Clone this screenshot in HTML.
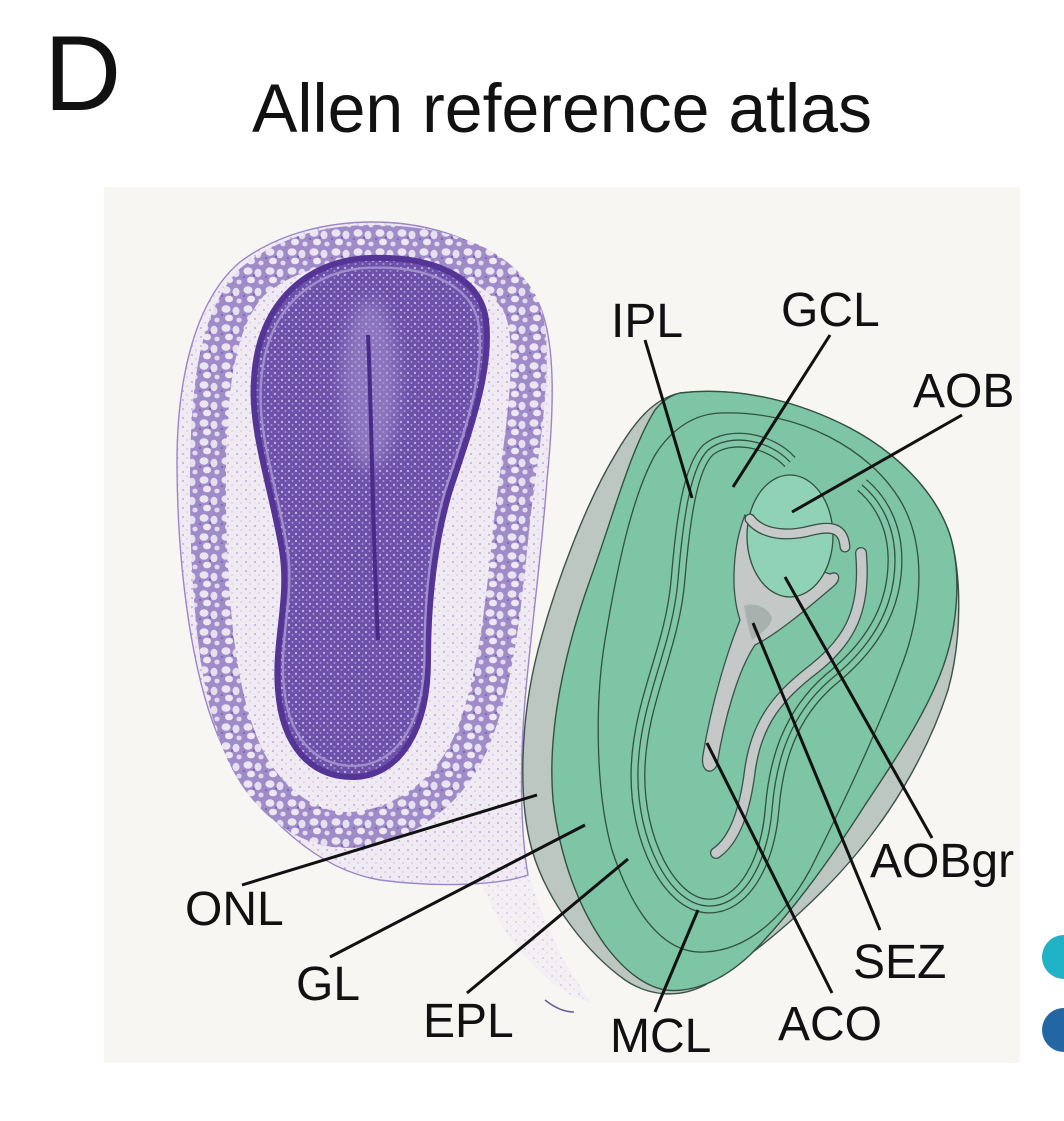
<!DOCTYPE html>
<html><head><meta charset="utf-8">
<style>
html,body{margin:0;padding:0;background:#fff;}
svg{display:block;}
text{font-family:"Liberation Sans", Arial, sans-serif; fill:#111;}
</style></head><body>
<svg width="1064" height="1121" viewBox="0 0 1064 1121" xmlns="http://www.w3.org/2000/svg">
<defs>
  <pattern id="glom" width="22" height="19" patternUnits="userSpaceOnUse">
    <rect width="22" height="19" fill="#a08bc9"/>
    <ellipse cx="6" cy="5" rx="4.5" ry="3.8" fill="#ebe5f1"/>
    <ellipse cx="16" cy="7" rx="3.5" ry="4.2" fill="#e6dff0"/>
    <ellipse cx="9" cy="14" rx="4" ry="3.3" fill="#eee8f3"/>
    <ellipse cx="19" cy="16" rx="2.6" ry="2.4" fill="#e2daee"/>
    <circle cx="12" cy="9.5" r="1" fill="#6e52a8"/>
    <circle cx="2" cy="11" r="0.9" fill="#6e52a8"/>
  </pattern>
  <pattern id="core" width="7" height="7" patternUnits="userSpaceOnUse">
    <rect width="7" height="7" fill="#6d50a9"/>
    <circle cx="2" cy="2" r="1.2" fill="#bcaddf"/>
    <circle cx="5.5" cy="5" r="1" fill="#a994d4"/>
  </pattern>
  <pattern id="light" width="9" height="9" patternUnits="userSpaceOnUse">
    <rect width="9" height="9" fill="#f0eaf3"/>
    <circle cx="3" cy="4" r="0.9" fill="#ae9cd2"/>
    <circle cx="7" cy="8" r="0.7" fill="#c3b6df"/>
  </pattern>
  <filter id="blur8" x="-50%" y="-50%" width="200%" height="200%"><feGaussianBlur stdDeviation="8"/></filter>
</defs>

<!-- panel -->
<rect x="104" y="187" width="916" height="876" fill="#f8f6f3"/>

<!-- side circles -->
<circle cx="1064" cy="957" r="22" fill="#20b2c7"/>
<circle cx="1064" cy="1030" r="22" fill="#2267a4"/>

<!-- title -->
<text x="44" y="110" font-size="107">D</text>
<text x="252" y="132" font-size="69" textLength="620" lengthAdjust="spacingAndGlyphs">Allen reference atlas</text>

<!-- Nissl section -->
<g>
  <path d="M 480 880 C 505 870, 520 860, 528 870 C 545 930, 570 975, 592 1003 C 570 1000, 540 975, 515 945 C 500 925, 488 900, 480 880 Z" fill="url(#light)" opacity="0.6"/>
  <path d="M 545 1000 C 555 1008, 565 1012, 574 1012" fill="none" stroke="#6d5a9a" stroke-width="1.5"/>
  <path d="M 373 222 C 440 222, 505 248, 537 300 C 558 340, 553 420, 547 480 C 541 560, 530 640, 525 700 C 520 760, 520 830, 528 875 C 500 885, 440 888, 380 880 C 320 870, 260 820, 222 745 C 192 680, 178 570, 177 470 C 176 380, 195 300, 240 262 C 280 232, 330 222, 373 222 Z" fill="url(#light)" stroke="#9a86c6" stroke-width="1.4"/>
  <path d="M 372 243 C 440 243, 500 262, 522 308 C 538 350, 522 440, 512 520 C 504 600, 497 680, 472 740 C 447 800, 392 830, 347 830 C 302 830, 262 795, 242 748 C 217 690, 209 600, 208 500 C 207 400, 214 322, 252 282 C 287 253, 330 243, 372 243 Z" fill="none" stroke="url(#glom)" stroke-width="36"/>
  <path d="M 370 258 C 430 256, 480 275, 486 320 C 492 370, 470 430, 450 490 C 435 540, 428 600, 428 660 C 428 730, 400 775, 355 777 C 310 778, 282 745, 278 690 C 274 640, 290 600, 282 550 C 272 490, 250 430, 254 380 C 258 300, 310 260, 370 258 Z" fill="url(#core)" stroke="#543596" stroke-width="6"/>
  <path d="M 370 258 C 430 256, 480 275, 486 320 C 492 370, 470 430, 450 490 C 435 540, 428 600, 428 660 C 428 730, 400 775, 355 777 C 310 778, 282 745, 278 690 C 274 640, 290 600, 282 550 C 272 490, 250 430, 254 380 C 258 300, 310 260, 370 258 Z" fill="none" stroke="#a08dcb" stroke-width="2.5" transform="translate(370 500) scale(0.94 0.96) translate(-370 -500)"/>
  <ellipse cx="370" cy="385" rx="28" ry="85" fill="#a795d0" opacity="0.55" filter="url(#blur8)"/>
  <path d="M 368 335 C 372 420, 372 520, 378 640" fill="none" stroke="#4a2a88" stroke-width="4"/>
</g>

<!-- Atlas drawing -->
<g stroke-linejoin="round">
  <path d="M 680 393 C 740 386, 800 402, 850 428 C 895 452, 935 490, 950 535 C 962 575, 962 640, 948 690 C 932 740, 905 790, 875 830 C 835 885, 770 945, 705 985 C 680 998, 650 997, 625 980 C 590 955, 548 905, 532 850 C 518 800, 520 720, 538 650 C 555 585, 585 505, 615 455 C 635 420, 655 398, 680 393 Z" fill="#bcc7c1" stroke="#3b5249" stroke-width="1.4"/>
  <path d="M 680 393 C 740 386, 800 402, 850 428 C 895 452, 935 490, 950 535 C 962 575, 958 630, 940 675 C 922 720, 895 760, 865 805 C 830 860, 790 915, 750 955 C 720 983, 690 993, 665 990 C 640 985, 620 965, 605 945 C 580 910, 560 860, 553 800 C 547 730, 565 650, 590 580 C 612 520, 630 450, 655 410 C 663 400, 672 395, 680 393 Z" fill="#7dc5a5" stroke="#34503f" stroke-width="1.4"/>
  <path d="M 720 413 C 800 410, 870 450, 900 500 C 930 550, 920 620, 900 670 C 880 725, 850 790, 810 870 C 785 915, 750 950, 705 952 C 660 955, 630 905, 612 850 C 595 790, 595 700, 605 640 C 615 580, 630 500, 655 455 C 672 428, 695 414, 720 413 Z" fill="none" stroke="#34503f" stroke-width="1.3"/>
  <!-- triple lines -->
  <path d="M 790 462 C 770 440, 730 432, 708 450 C 690 468, 683 520, 678 580 C 672 650, 640 700, 638 770 C 636 840, 670 905, 708 906 C 745 907, 768 860, 772 810 C 776 760, 790 715, 830 680 C 870 648, 895 610, 895 560 C 895 525, 880 500, 862 485" fill="none" stroke="#34503f" stroke-width="15"/>
  <path d="M 790 462 C 770 440, 730 432, 708 450 C 690 468, 683 520, 678 580 C 672 650, 640 700, 638 770 C 636 840, 670 905, 708 906 C 745 907, 768 860, 772 810 C 776 760, 790 715, 830 680 C 870 648, 895 610, 895 560 C 895 525, 880 500, 862 485" fill="none" stroke="#80c7a8" stroke-width="12.4"/>
  <path d="M 790 462 C 770 440, 730 432, 708 450 C 690 468, 683 520, 678 580 C 672 650, 640 700, 638 770 C 636 840, 670 905, 708 906 C 745 907, 768 860, 772 810 C 776 760, 790 715, 830 680 C 870 648, 895 610, 895 560 C 895 525, 880 500, 862 485" fill="none" stroke="#34503f" stroke-width="1.3"/>
  <!-- long gray band -->
  <path d="M 861 553 C 866 610, 850 640, 815 668 C 780 695, 757 720, 750 770 C 745 810, 735 840, 716 853" fill="none" stroke="#3b5249" stroke-width="12" stroke-linecap="round"/>
  <path d="M 861 553 C 866 610, 850 640, 815 668 C 780 695, 757 720, 750 770 C 745 810, 735 840, 716 853" fill="none" stroke="#c4c9c7" stroke-width="9.4" stroke-linecap="round"/>
  <!-- SEZ / ACO gray blob -->
  <path d="M 745 515 C 733 545, 730 590, 740 620 C 728 650, 712 700, 703 755 C 700 772, 712 776, 717 765 C 724 720, 738 670, 755 645 C 775 635, 800 615, 835 585 C 842 578, 838 570, 830 574 L 790 560 Z" fill="#c4c9c7" stroke="#3b5249" stroke-width="1.3"/>
  <path d="M 744 606 C 752 602, 768 606, 772 618 C 770 628, 760 634, 752 640 C 748 628, 746 616, 744 606 Z" fill="#a8b1ae"/>
  <!-- AOB -->
  <ellipse cx="790" cy="536" rx="43" ry="61" fill="#90d2b6" stroke="#34503f" stroke-width="1.3"/>
  <path d="M 750 519 C 760 532, 780 537, 805 532 C 825 527, 843 523, 845 547" fill="none" stroke="#3b5249" stroke-width="11" stroke-linecap="round"/>
  <path d="M 750 519 C 760 532, 780 537, 805 532 C 825 527, 843 523, 845 547" fill="none" stroke="#c6cbc9" stroke-width="8.4" stroke-linecap="round"/>
</g>

<!-- leader lines -->
<g stroke="#111" stroke-width="3" fill="none">
  <line x1="537" y1="795" x2="242" y2="885"/>
  <line x1="585" y1="825" x2="330" y2="957"/>
  <line x1="628" y1="859" x2="467" y2="993"/>
  <line x1="698" y1="910" x2="655" y2="1012"/>
  <line x1="707" y1="743" x2="832" y2="993"/>
  <line x1="753" y1="623" x2="880" y2="930"/>
  <line x1="785" y1="577" x2="932" y2="838"/>
  <line x1="962" y1="415" x2="792" y2="512"/>
  <line x1="830" y1="335" x2="733" y2="487"/>
  <line x1="645" y1="340" x2="692" y2="498"/>
</g>

<!-- labels -->
<g font-size="48">
  <text x="611" y="337">IPL</text>
  <text x="781" y="326">GCL</text>
  <text x="913" y="407">AOB</text>
  <text x="870" y="877">AOBgr</text>
  <text x="853" y="978">SEZ</text>
  <text x="778" y="1040">ACO</text>
  <text x="610" y="1052">MCL</text>
  <text x="185" y="925">ONL</text>
  <text x="296" y="1000">GL</text>
  <text x="423" y="1037">EPL</text>
</g>
</svg>
</body></html>
